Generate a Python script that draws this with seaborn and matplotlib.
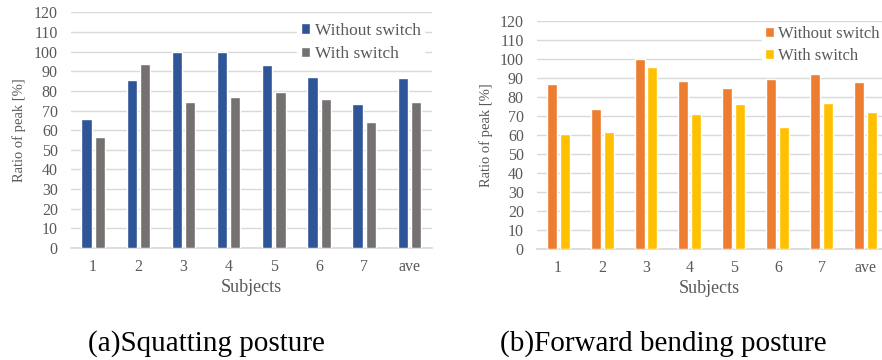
import matplotlib
matplotlib.use("Agg")
import matplotlib.pyplot as plt
import seaborn as sns
import pandas as pd

subjects = ["1", "2", "3", "4", "5", "6", "7", "ave"]
series_names = ["Without switch", "With switch"]

squat_without = [65.7, 85.4, 100.0, 100.0, 93.4, 87.1, 73.2, 86.4]
squat_with = [56.3, 93.9, 74.2, 76.8, 79.3, 75.8, 64.3, 74.3]

bend_without = [86.5, 73.5, 100.0, 88.1, 84.4, 89.6, 91.8, 87.7]
bend_with = [60.2, 61.6, 95.8, 70.7, 76.0, 63.9, 76.5, 72.1]

yticks = list(range(0, 121, 10))
captions = ["(a)Squatting posture", "(b)Forward bending posture"]

sns.set_theme(style="white")
plt.rcParams["font.family"] = ["Liberation Serif", "DejaVu Serif"]

W, H = 882, 360
fig = plt.figure(figsize=(W / 100, H / 100), dpi=100)
fig.patch.set_facecolor("white")


def make_df(a, b):
    return pd.DataFrame({
        "Subjects": subjects * 2,
        "value": list(a) + list(b),
        "series": [series_names[0]] * len(subjects) + [series_names[1]] * len(subjects),
    })


def draw(rect_px, a, b, colors, xlim, legend_anchor, ylabel_x, leg_fs, leg_sp):
    l, t, r, btm = rect_px
    ax = fig.add_axes([l / W, 1 - btm / H, (r - l) / W, (btm - t) / H])
    df = make_df(a, b)
    sns.barplot(data=df, x="Subjects", y="value", hue="series", order=subjects,
                hue_order=series_names, palette=colors, width=0.59, gap=0.23,
                saturation=1, ax=ax, zorder=3)
    ax.set_ylim(0, 120)
    ax.set_xlim(*xlim)
    ax.set_yticks(yticks)
    ax.yaxis.grid(True, color="#d9d9d9", linewidth=1.0, zorder=0)
    ax.set_axisbelow(True)
    for s in ["top", "right", "left"]:
        ax.spines[s].set_visible(False)
    ax.spines["bottom"].set_color("#d9d9d9")
    ax.tick_params(axis="both", which="both", length=0, labelsize=11.5,
                   labelcolor="#595959")
    ax.tick_params(axis="x", pad=8)
    ax.tick_params(axis="y", pad=9.5)
    ax.set_xlabel("Subjects", fontsize=13, color="#595959", labelpad=3)
    ax.set_ylabel("Ratio of peak [%]", fontsize=10.5, color="#595959")
    ax.yaxis.set_label_coords(ylabel_x, 0.5)
    leg = ax.legend(loc="upper left", bbox_to_anchor=legend_anchor, frameon=True,
                    fontsize=leg_fs, handlelength=0.55, handleheight=0.55,
                    handletextpad=0.25, labelspacing=leg_sp, borderpad=0.2,
                    borderaxespad=0)
    leg.get_frame().set_facecolor("white")
    leg.get_frame().set_edgecolor("white")
    leg.get_frame().set_alpha(1)
    leg.set_zorder(5)
    for txt in leg.get_texts():
        txt.set_color("#595959")
    return ax


ax1 = draw((71, 12.3, 432, 248), squat_without, squat_with,
           ["#2e5597", "#767171"], (-0.49, 7.5), (0.627, 0.97), -0.125,
           12.5, 0.42)
ax2 = draw((537, 20.7, 882, 249), bend_without, bend_with,
           ["#ed7d31", "#ffc000"], (-0.48, 7.37), (0.651, 0.99), -0.1275,
           12, 0.36)

fig.text(206 / W, 1 - 344 / H, captions[0], fontsize=21, ha="center",
         va="center", color="black")
fig.text(663 / W, 1 - 344 / H, captions[1], fontsize=21, ha="center",
         va="center", color="black")

fig.savefig("out.png", dpi=100)
